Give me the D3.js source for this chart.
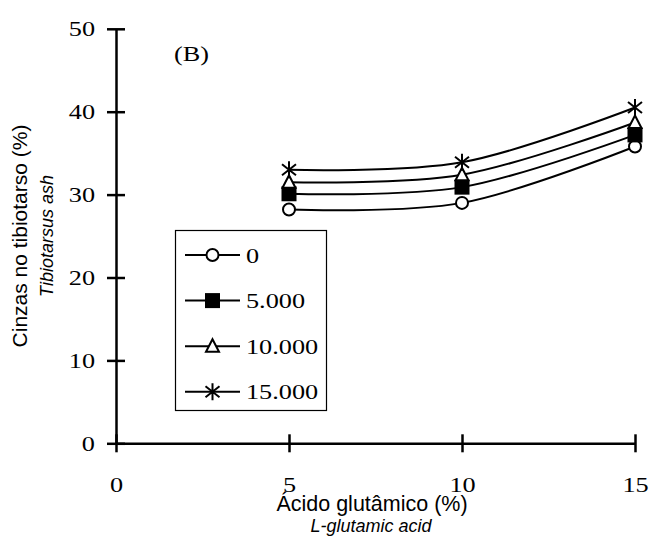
<!DOCTYPE html>
<html>
<head>
<meta charset="utf-8">
<script src="https://cdn.jsdelivr.net/npm/d3@7"></script>
<style>
  body { margin: 0; background: #fff; }
  svg { display: block; }
</style>
</head>
<body>
<script>
// glutamic acid levels (x) and one series per dose
var levels = [5, 10, 15];
var seriesNames = ['0', '5.000', '10.000', '15.000'];
var ash0 = [28.2, 29.0, 35.8];
var ash5000 = [30.1, 30.9, 37.2];
var ash10000 = [31.5, 32.4, 38.7];
var ash15000 = [33.0, 33.9, 40.5];
var xTicks = [0, 5, 10, 15];
var yTicks = [0, 10, 20, 30, 40, 50];

var allSeries = [ash0, ash5000, ash10000, ash15000];
var markerTypes = ['circle', 'square', 'triangle', 'star'];

var width = 650, height = 538;
var serif = '"Liberation Serif", "Times New Roman", serif';
var sans = '"Liberation Sans", Arial, sans-serif';
var stretch = 'scale(1.25,1)'; // serif text in the original is drawn wide

var svg = d3.select('body').append('svg')
    .attr('width', width)
    .attr('height', height);

var x = d3.scaleLinear().domain([0, 15]).range([116, 635]);
var y = d3.scaleLinear().domain([0, 50]).range([443.3, 28.8]);

// axes
var yAxis = svg.append('g')
    .attr('transform', 'translate(' + x(0) + ',0)')
    .call(d3.axisLeft(y).tickValues(yTicks).tickSizeOuter(0).tickSizeInner(9));
yAxis.selectAll('.tick line').attr('x1', -9).attr('x2', 9);
yAxis.selectAll('.tick text')
    .attr('x', 0)
    .attr('transform', 'translate(-21,0) ' + stretch);

var xAxis = svg.append('g')
    .attr('transform', 'translate(0,' + y(0) + ')')
    .call(d3.axisBottom(x).tickValues(xTicks).tickSizeOuter(0).tickSizeInner(9));
xAxis.selectAll('.tick line').attr('y1', -9).attr('y2', 9);
xAxis.selectAll('.tick text')
    .attr('y', 48.5).attr('dy', 0)
    .attr('transform', stretch);

svg.selectAll('.domain, .tick line')
    .attr('stroke', '#000')
    .attr('stroke-width', 2.5);
svg.selectAll('.tick text')
    .attr('fill', '#000')
    .style('font-family', serif)
    .style('font-size', '21px');

// lines
var line = d3.line()
    .x(function(d, i) { return x(levels[i]); })
    .y(function(d) { return y(d); })
    .curve(d3.curveCatmullRom.alpha(0));

svg.selectAll('.series')
    .data(allSeries)
    .enter().append('path')
    .attr('class', 'series')
    .attr('d', line)
    .attr('fill', 'none')
    .attr('stroke', '#000')
    .attr('stroke-width', 2);

function drawMarker(g, type) {
  if (type === 'circle') {
    g.append('circle').attr('r', 6).attr('fill', '#fff').attr('stroke', '#000').attr('stroke-width', 2);
  } else if (type === 'square') {
    g.append('rect').attr('x', -7.5).attr('y', -7.5).attr('width', 15).attr('height', 15)
      .attr('fill', '#000');
  } else if (type === 'triangle') {
    g.append('path').attr('d', 'M0,-7L6.5,5.5L-6.5,5.5Z')
      .attr('fill', '#fff').attr('stroke', '#000').attr('stroke-width', 2);
  } else {
    g.append('path').attr('d', 'M0,-8.5L0,8.5M-7,-5.5L7,5.5M-7,5.5L7,-5.5')
      .attr('stroke', '#000').attr('stroke-width', 2);
  }
}

allSeries.forEach(function(vals, s) {
  vals.forEach(function(v, i) {
    var g = svg.append('g').attr('transform', 'translate(' + x(levels[i]) + ',' + y(v) + ')');
    drawMarker(g, markerTypes[s]);
  });
});

// panel label
svg.append('text')
    .attr('transform', 'translate(174,61) ' + stretch)
    .style('font-family', serif)
    .style('font-size', '21px')
    .text('(B)');

// legend
var legend = svg.append('g');
legend.append('rect')
    .attr('x', 175.5).attr('y', 230.5).attr('width', 151).attr('height', 180)
    .attr('fill', '#fff').attr('stroke', '#000').attr('stroke-width', 1.2);

seriesNames.forEach(function(name, s) {
  var ry = 255 + s * 45.6;
  legend.append('line')
      .attr('x1', 185).attr('x2', 240).attr('y1', ry).attr('y2', ry)
      .attr('stroke', '#000').attr('stroke-width', 2);
  var g = legend.append('g').attr('transform', 'translate(212.5,' + ry + ')');
  drawMarker(g, markerTypes[s]);
  legend.append('text')
      .attr('transform', 'translate(246,' + (ry + 7.5) + ') ' + stretch)
      .style('font-family', serif)
      .style('font-size', '21px')
      .text(name);
});

// axis titles
var yt = svg.append('g').attr('transform', 'translate(27,236) rotate(-90)');
yt.append('text')
    .attr('text-anchor', 'middle')
    .style('font-family', sans)
    .style('font-size', '21px')
    .text('Cinzas no tibiotarso (%)');
yt.append('text')
    .attr('y', 26)
    .attr('text-anchor', 'middle')
    .style('font-family', sans)
    .style('font-size', '18px')
    .style('font-style', 'italic')
    .text('Tibiotarsus ash');

svg.append('text')
    .attr('x', 372).attr('y', 511)
    .attr('text-anchor', 'middle')
    .style('font-family', sans)
    .style('font-size', '21.5px')
    .text('Ácido glutâmico (%)');
svg.append('text')
    .attr('x', 371).attr('y', 532)
    .attr('text-anchor', 'middle')
    .style('font-family', sans)
    .style('font-size', '18px')
    .style('font-style', 'italic')
    .text('L-glutamic acid');
</script>
</body>
</html>
